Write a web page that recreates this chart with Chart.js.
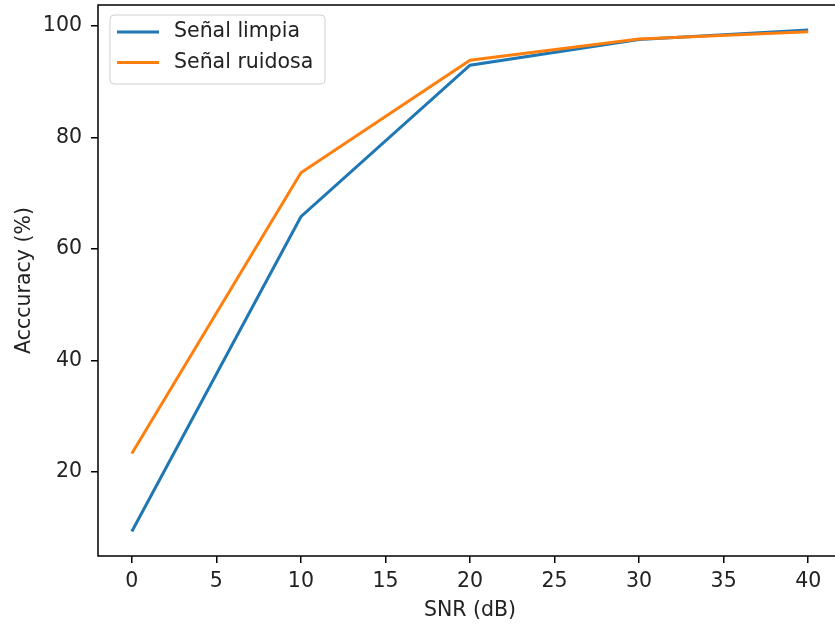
<!DOCTYPE html>
<html>
<head>
<meta charset="utf-8">
<script src="https://cdn.jsdelivr.net/npm/chart.js@4.4.0/dist/chart.umd.min.js"></script>
<style>
  html, body { margin: 0; padding: 0; background: #fff; overflow: hidden; }
  canvas { display: block; }
</style>
</head>
<body>
<canvas id="accChart" width="850" height="627"></canvas>
<script>
// Datos del gráfico
var snr = [0, 10, 20, 30, 40];
var senalLimpia = [9.3, 65.8, 93.0, 97.6, 99.3];
var senalRuidosa = [23.3, 73.7, 93.9, 97.7, 99.0];
var xTicks = [0, 5, 10, 15, 20, 25, 30, 35, 40];
var yTicks = [20, 40, 60, 80, 100];

var fuente = { family: "'DejaVu Sans', sans-serif", size: 20.5 };
var colorTexto = '#222';

function puntos(ys) {
  return snr.map(function (x, i) { return { x: x, y: ys[i] }; });
}

// Marco de los ejes (el borde derecho queda fuera de la ventana)
var marco = {
  id: 'marco',
  afterDraw: function (chart) {
    var a = chart.chartArea, c = chart.ctx;
    c.save();
    c.strokeStyle = '#000';
    c.lineWidth = 1.5;
    c.strokeRect(a.left, a.top, a.right - a.left, a.bottom - a.top);
    c.restore();
  }
};

// Leyenda dentro del área del gráfico (arriba a la izquierda)
var leyenda = {
  id: 'leyenda',
  afterDatasetsDraw: function (chart) {
    var a = chart.chartArea, c = chart.ctx;
    var x = a.left + 12, y = a.top + 10, w = 215, h = 69, r = 4;
    c.save();
    c.beginPath();
    c.roundRect(x, y, w, h, r);
    c.fillStyle = 'rgba(255,255,255,0.8)';
    c.fill();
    c.strokeStyle = '#d0d0d0';
    c.lineWidth = 1;
    c.stroke();
    c.font = fuente.size + 'px ' + fuente.family;
    c.textBaseline = 'middle';
    chart.data.datasets.forEach(function (ds, i) {
      var yy = y + 17 + i * 30.5;
      c.strokeStyle = ds.borderColor;
      c.lineWidth = 3;
      c.beginPath();
      c.moveTo(x + 7, yy);
      c.lineTo(x + 49, yy);
      c.stroke();
      c.fillStyle = colorTexto;
      c.fillText(ds.label, x + 64, yy);
    });
    c.restore();
  }
};

function sinRelleno(s) {
  s.paddingTop = 0;
  s.paddingBottom = 0;
  s.paddingLeft = 0;
  s.paddingRight = 0;
}

var ctx = document.getElementById('accChart').getContext('2d');
var grafico = new Chart(ctx, {
  type: 'line',
  data: {
    datasets: [
      {
        label: 'Señal limpia',
        data: puntos(senalLimpia),
        borderColor: '#1f77b4',
        borderWidth: 3,
        pointRadius: 0,
        tension: 0,
        order: 1
      },
      {
        label: 'Señal ruidosa',
        data: puntos(senalRuidosa),
        borderColor: '#ff7f0e',
        borderWidth: 3,
        pointRadius: 0,
        tension: 0,
        order: 0
      }
    ]
  },
  options: {
    responsive: false,
    animation: false,
    devicePixelRatio: 1,
    layout: { padding: { top: 5, right: 8, left: 0, bottom: 0 } },
    plugins: {
      legend: { display: false },
      tooltip: { enabled: false }
    },
    scales: {
      x: {
        type: 'linear',
        min: -2,
        max: 42,
        afterBuildTicks: function (s) { s.ticks = xTicks.map(function (v) { return { value: v }; }); },
        afterFit: function (s) { s.height = 71; sinRelleno(s); },
        ticks: { font: fuente, color: colorTexto, padding: 6, maxRotation: 0, autoSkip: false },
        grid: { drawOnChartArea: false, drawTicks: true, tickLength: 7, color: '#000', lineWidth: 1.5 },
        border: { display: false },
        title: { display: true, text: 'SNR (dB)', font: fuente, color: colorTexto, padding: { top: 0, bottom: 4 } }
      },
      y: {
        type: 'linear',
        min: 4.9,
        max: 103.8,
        afterBuildTicks: function (s) { s.ticks = yTicks.map(function (v) { return { value: v }; }); },
        afterFit: function (s) { s.width = 98; sinRelleno(s); },
        ticks: { font: fuente, color: colorTexto, padding: 9 },
        grid: { drawOnChartArea: false, drawTicks: true, tickLength: 7, color: '#000', lineWidth: 1.5 },
        border: { display: false },
        title: { display: true, text: 'Acccuracy (%)', font: fuente, color: colorTexto, padding: { top: 12, bottom: 0 } }
      }
    }
  },
  plugins: [marco, leyenda]
});
</script>
</body>
</html>
